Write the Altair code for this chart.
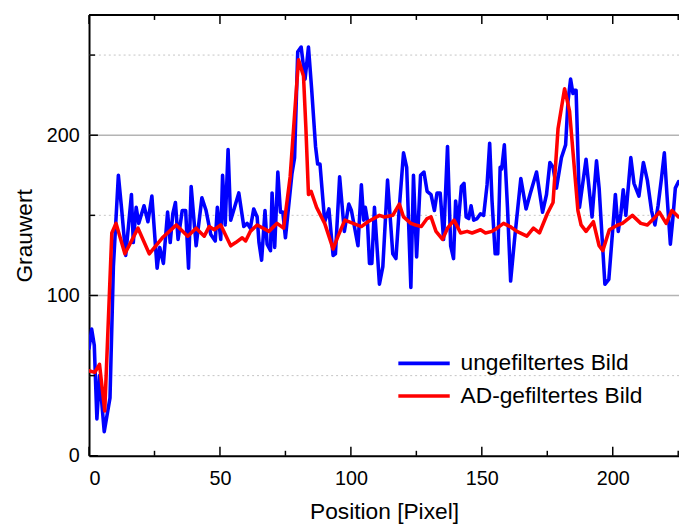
import altair as alt
import pandas as pd

# ---- data ----
blue_x = [0, 1, 2, 3, 4, 5.8, 8, 9.3, 11.2, 12.5, 14, 16.2, 16.9, 18, 19, 21, 22.5, 24, 26, 27,
          28.4, 30, 31, 32, 33, 34, 35.6, 36.9, 38, 39, 40.9, 43.1, 44.7, 46.5, 48.2, 49, 50.3, 51,
          52, 53.1, 54.1, 57.2, 59.1, 60.4, 61.6, 62.9, 64.2, 64.9, 65.9, 67.2, 68, 69.3, 69.9,
          70.9, 72.1, 73.1, 74, 75, 77.5, 78.5, 79.7, 81, 82.5, 83.8, 85, 86.5, 87.3, 88.2, 90,
          91.6, 93.2, 94.1, 95.7, 97.5, 99.2, 100.2, 102.7, 104, 104.9, 105.5, 106.3, 107.1, 108,
          109, 110.9, 112.2, 114, 116, 117.2, 118.5, 120.1, 121.3, 122.9, 123.9, 125.1, 126.6,
          127.9, 129.1, 130.6, 131.9, 132.9, 134.1, 135.4, 136.9, 138.1, 139.2, 140, 140.9, 142.2,
          143.2, 144, 145, 145.9, 146.9, 148.2, 149.5, 150.7, 152, 153, 153.9, 155.1, 156.1, 157,
          157.6, 158.6, 159.8, 161, 162.5, 164.9, 166.9, 168.4, 170.9, 173.2, 174.7, 176, 177.2,
          178.5, 180.4, 182, 182.9, 183.9, 184.8, 185.4, 186, 187.3, 189.8, 192.1, 193.8, 194.8,
          197, 198.5, 199.7, 201, 202.1, 203.1, 204, 205, 206.9, 208.1, 210, 211.7, 213.2, 214.8,
          216.1, 217.3, 218.6, 219.7, 220.7, 222, 222.9, 223.9, 225.1]
blue_y = [67, 79, 69, 23, 50, 15, 36, 118, 175, 153, 125, 163, 133, 155, 145, 156, 146, 162, 117, 130,
          120, 152, 133, 151, 158, 135, 153, 153, 117, 168, 131, 161, 153, 138, 134, 155, 135, 175,
          144, 191, 147, 164, 143, 145, 142, 154, 149, 133, 122, 153, 132, 128, 164,
          130, 177, 152, 152, 136, 176, 186, 252, 255, 235, 255, 229, 193, 182, 182, 146,
          154, 125, 126, 174, 140, 157, 153, 131, 169, 147, 155, 147, 120, 120,
          155, 107, 118, 172, 126, 123, 155, 189, 180, 105, 175, 124, 175,
          177, 165, 163, 153, 164, 164, 135, 193, 131, 123, 159, 143, 168,
          170, 149, 148, 156, 147, 148, 151, 150, 169, 195, 159, 126, 126, 180,
          179, 194, 155, 109, 135, 173, 154, 163, 177, 152, 163, 183, 180,
          167, 186, 194, 221, 235, 226, 228, 228, 155, 185, 149, 184, 167,
          107, 110, 135, 163, 140, 151, 166, 150, 186, 170, 162, 183, 172, 153,
          144, 156, 173, 189, 163, 132, 147, 167, 171]

red_x = [0, 2.2, 4, 6, 8.7, 10.3, 13.7, 18.7, 23, 28, 32, 33.3, 37.7, 40.9, 44, 45.9, 47.8, 50.3,
         54.1, 56, 58.5, 59.8, 61.6, 64.2, 68.7, 71.8, 74.3, 76.8, 78.5, 80, 81.9, 82.8, 83.8,
         84.8, 86.9, 90, 93.2, 95.1, 97.7, 104, 106.5, 110.9, 112.8, 116, 118.5, 120.1, 122.9,
         124.7, 126.9, 129.1, 130.6, 132.5, 135, 136.9, 139.4, 141.9, 144.4, 146.3, 149.5, 151.4,
         153.9, 155.8, 158.3, 160.8, 163.4, 167.2, 169.7, 172, 175, 177.2, 179.1, 181.6, 183.5,
         186.7, 187.9, 189.8, 192.6, 194.8, 196.2, 198.7, 201.9, 203.7, 207.5, 210.7, 213.2,
         215.7, 217.8, 220.4, 222.6, 225.1]
red_y = [53, 52, 57, 28, 139, 145, 126, 142, 126, 136, 142, 144, 137, 142, 137, 143, 141, 144,
         131, 133, 136, 134, 140, 144, 140, 145, 142, 174, 213, 247, 237, 205, 163,
         165, 155, 145, 129, 137, 147, 143, 146, 150, 149, 150, 157, 149, 145,
         144, 143, 148, 149, 140, 135, 142, 147, 139, 140, 139, 141, 139,
         140, 142, 145, 143, 140, 137, 142, 139, 151, 158, 204, 229, 215,
         153, 144, 140, 146, 131, 128, 141, 144, 145, 150, 145, 144,
         148, 152, 145, 153, 149]

series_names = ["ungefiltertes Bild", "AD-gefiltertes Bild"]
series_colors = ["#0000ff", "#ff0000"]

x_major_ticks = [0, 50, 100, 150, 200]
x_minor_ticks = [25, 75, 125, 175, 225]
y_major_ticks = [0, 100, 200]
y_minor_ticks = [50, 150, 250]
grid_solid = [100, 200]
grid_dotted = [50, 150, 250]

# ---- layout ----
W, H = 597, 446
FONT = "Liberation Sans"

xscale = alt.Scale(domain=[0, 225.3], nice=False, zero=False)
yscale = alt.Scale(domain=[0, 275], nice=False, zero=False)

xaxis = alt.Axis(title="Position [Pixel]", values=x_major_ticks, ticks=False, tickSize=0, grid=False,
                 domainColor="black", domainWidth=2, labelFontSize=20, labelPadding=13,
                 labelColor="black", labelFont=FONT, titleFont=FONT, titleFontSize=23,
                 titleFontWeight="normal", titleColor="black", titlePadding=13)
yaxis = alt.Axis(title="Grauwert", values=y_major_ticks, ticks=False, tickSize=0, grid=False,
                 domainColor="black", domainWidth=2, labelFontSize=20, labelPadding=10,
                 labelColor="black", labelFont=FONT, titleFont=FONT, titleFontSize=23,
                 titleFontWeight="normal", titleColor="black", titlePadding=10)


def X(field):
    return alt.X(field, type="quantitative", scale=xscale, axis=xaxis)


def Y(field):
    return alt.Y(field, type="quantitative", scale=yscale, axis=yaxis)


df_blue = pd.DataFrame({"x": blue_x, "y": blue_y, "series": series_names[0]})
df_red = pd.DataFrame({"x": red_x, "y": red_y, "series": series_names[1]})

color = alt.Color("series:N", scale=alt.Scale(domain=series_names, range=series_colors),
                  legend=alt.Legend(orient="none", legendX=311, legendY=336, title=None,
                                    symbolType="stroke", symbolStrokeWidth=3.6, symbolSize=2704,
                                    labelFontSize=23, labelFont=FONT, labelColor="black",
                                    labelOffset=9, labelLimit=0, rowPadding=0, clipHeight=33,
                                    padding=0))

grid1 = alt.Chart(pd.DataFrame({"y": grid_solid})).mark_rule(color="#b4b4b4", strokeWidth=1.5).encode(y=Y("y"))
grid2 = alt.Chart(pd.DataFrame({"y": grid_dotted})).mark_rule(color="#c4c4c4", strokeWidth=1, strokeDash=[2, 3]).encode(y=Y("y"))

line_style = dict(strokeWidth=3.6, clip=True, strokeJoin="round", strokeCap="round")
blue = alt.Chart(df_blue).mark_line(**line_style).encode(x=X("x"), y=Y("y"), color=color, order="x")
red = alt.Chart(df_red).mark_line(**line_style).encode(x=X("x"), y=Y("y"), color=color, order="x")

top_border = alt.Chart(pd.DataFrame({"a": [0]})).mark_rule(color="black", strokeWidth=2).encode(
    x=alt.value(0), x2=alt.value(W), y=alt.value(0))

xmaj = pd.DataFrame({"x": x_major_ticks})
xmin = pd.DataFrame({"x": x_minor_ticks})
ymaj = pd.DataFrame({"y": y_major_ticks})
ymin = pd.DataFrame({"y": y_minor_ticks})

tick_style = dict(color="black", strokeWidth=1.5)
t_bot_maj = alt.Chart(xmaj).mark_rule(**tick_style).encode(x=X("x"), y=alt.value(H), y2=alt.value(H - 9))
t_bot_min = alt.Chart(xmin).mark_rule(**tick_style).encode(x=X("x"), y=alt.value(H), y2=alt.value(H - 5))
t_top_maj = alt.Chart(xmaj).mark_rule(**tick_style).encode(x=X("x"), y=alt.value(0), y2=alt.value(9))
t_top_min = alt.Chart(xmin).mark_rule(**tick_style).encode(x=X("x"), y=alt.value(0), y2=alt.value(5))
t_left_maj = alt.Chart(ymaj).mark_rule(**tick_style).encode(y=Y("y"), x=alt.value(0), x2=alt.value(9))
t_left_min = alt.Chart(ymin).mark_rule(**tick_style).encode(y=Y("y"), x=alt.value(0), x2=alt.value(6))

chart = alt.layer(
    grid1, grid2, blue, red, top_border,
    t_bot_maj, t_bot_min, t_top_maj, t_top_min, t_left_maj, t_left_min,
).properties(
    width=W, height=H,
    autosize=alt.AutoSizeParams(type="none"),
    padding={"left": 82, "top": 4, "right": 0, "bottom": 68},
    background="white",
).configure_view(stroke=None)

chart.save("out.html", embed_options={"renderer": "svg", "actions": False})
